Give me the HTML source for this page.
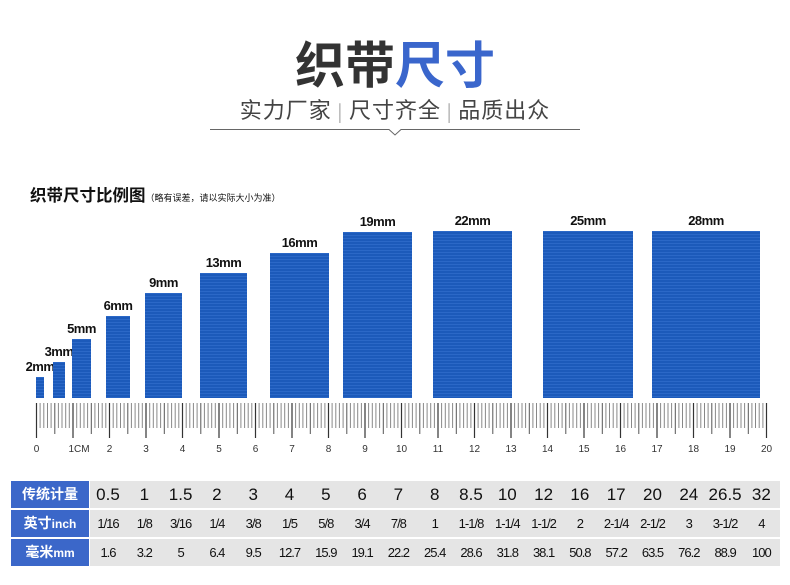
<!DOCTYPE html>
<html><head><meta charset="utf-8">
<style>
body{margin:0;width:790px;height:585px;background:#fff;position:relative;overflow:hidden;font-family:"Liberation Sans","Noto Sans CJK SC",sans-serif}
.a{position:absolute}
.bar{position:absolute;background:#1e5fc4;bottom:187px;background-image:repeating-linear-gradient(180deg,rgba(255,255,255,0.06) 0 1px,rgba(0,0,0,0.05) 1px 3px)}
.lb{position:absolute;font-size:13px;color:#111;text-align:center;letter-spacing:-0.5px;font-weight:bold}
.row{position:absolute;left:11px;width:769px;height:27px}
.hd{position:absolute;left:0;top:0;width:78px;height:27px;background:#3b67c9;color:#fff;font-weight:bold;font-size:14px;line-height:27px;text-align:center}
.gr{position:absolute;left:79px;top:0;width:690px;height:27px;background:#e5e5e5}
.c{position:absolute;top:0;width:36px;text-align:center;line-height:27px;color:#111}
</style></head><body>
<div class="a" style="left:0;width:790px;top:32px;text-align:center;font-size:50px;font-weight:bold;color:#333;line-height:60px;font-family:'Noto Sans CJK SC',sans-serif">织带<span style="color:#3a66cc">尺寸</span></div>
<div class="a" style="left:0;width:790px;top:93px;text-align:center;font-size:22px;color:#444;line-height:32px;font-family:'Noto Sans CJK SC',sans-serif;letter-spacing:1px">实力厂家 <span style="font-size:18px;font-weight:100">|</span> 尺寸齐全 <span style="font-size:18px;font-weight:100">|</span> 品质出众</div>
<svg class="a" style="left:0;top:0" width="790" height="140"><polyline points="210,129.5 389,129.5 395,135 401,129.5 580,129.5" fill="none" stroke="#666" stroke-width="1"/></svg>
<div class="a" style="left:30px;top:182px;font-size:16.5px;font-weight:bold;color:#111;font-family:'Noto Sans CJK SC',sans-serif">织带尺寸比例图<span style="font-size:9px;font-weight:normal">（略有误差，请以实际大小为准）</span></div>
<div id="bars"></div>
<svg id="ruler" class="a" style="left:0;top:398px" width="790" height="60"></svg>
<div id="tbl"></div>
<script>
var B=[[36,44,377,'2mm'],[53,65,362,'3mm'],[72,91,339,'5mm'],[106,130,316,'6mm'],[145,182,293,'9mm'],[200,247,273,'13mm'],[270,329,253,'16mm'],[343,412,232,'19mm'],[433,512,231,'22mm'],[543,633,231,'25mm'],[652,760,231,'28mm']];
var h='';B.forEach(function(b){h+='<div class="bar" style="left:'+b[0]+'px;width:'+(b[1]-b[0])+'px;top:'+b[2]+'px;height:'+(398-b[2])+'px"></div><div class="lb" style="left:'+(b[0]+(b[1]-b[0])/2-30)+'px;width:60px;top:'+(b[2]-18)+'px">'+b[3]+'</div>';});
document.getElementById('bars').innerHTML=h;
var s='',x0=36.5,pc=36.5;
for(var i=0;i<=200;i++){var x=x0+i*pc/10,y2,c,w;if(i%10==0){y2=40;c='#333';w=1.2}else if(i%5==0){y2=36;c='#555';w=1}else{y2=30;c='#888';w=1}
s+='<line x1="'+x.toFixed(1)+'" y1="5" x2="'+x.toFixed(1)+'" y2="'+y2+'" stroke="'+c+'" stroke-width="'+w+'"/>';}
for(var k=0;k<=20;k++){var t=k==1?'1CM':k;s+='<text x="'+(x0+k*pc+(k==1?6:0))+'" y="54" font-size="10" fill="#333" text-anchor="middle" font-family="Liberation Sans">'+t+'</text>';}
document.getElementById('ruler').innerHTML=s;
var R=[['传统计量',['0.5','1','1.5','2','3','4','5','6','7','8','8.5','10','12','16','17','20','24','26.5','32'],17],
['英寸<span style="font-size:12px">inch</span>',['1/16','1/8','3/16','1/4','3/8','1/5','5/8','3/4','7/8','1','1-1/8','1-1/4','1-1/2','2','2-1/4','2-1/2','3','3-1/2','4'],13],
['毫米<span style="font-size:12px">mm</span>',['1.6','3.2','5','6.4','9.5','12.7','15.9','19.1','22.2','25.4','28.6','31.8','38.1','50.8','57.2','63.5','76.2','88.9','100'],13]];
var t='';R.forEach(function(r,j){t+='<div class="row" style="top:'+(481+j*29)+'px"><div class="hd">'+r[0]+'</div><div class="gr"></div>';
r[1].forEach(function(v,i){t+='<div class="c" style="left:'+(79+i*36.3)+'px;font-size:'+r[2]+'px;'+(j>0?'letter-spacing:-1px':'')+'">'+v+'</div>';});t+='</div>';});
document.getElementById('tbl').innerHTML=t;
</script>
</body></html>
